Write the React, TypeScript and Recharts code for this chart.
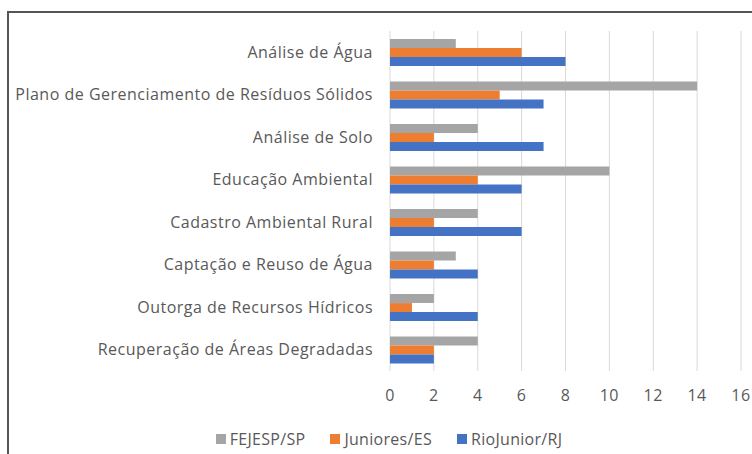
import React from "react";
import { BarChart, Bar, XAxis, YAxis, CartesianGrid, Legend } from "recharts";

const categories = [
  "Análise de Água",
  "Plano de Gerenciamento de Resíduos Sólidos",
  "Análise de Solo",
  "Educação Ambiental",
  "Cadastro Ambiental Rural",
  "Captação e Reuso de Água",
  "Outorga de Recursos Hídricos",
  "Recuperação de Áreas Degradadas",
];
const fejesp = [3, 14, 4, 10, 4, 3, 2, 4];
const juniores = [6, 5, 2, 4, 2, 2, 1, 2];
const riojunior = [8, 7, 7, 6, 6, 4, 4, 2];
const xTicks = [0, 2, 4, 6, 8, 10, 12, 14, 16];

const seriesNames = ["FEJESP/SP", "Juniores/ES", "RioJunior/RJ"];
const seriesColors = ["#A5A5A5", "#ED7D31", "#4472C4"];

const data = categories.map((c, i) => ({
  name: c,
  s0: fejesp[i],
  s1: juniores[i],
  s2: riojunior[i],
}));

const FONT = "'Open Sans', sans-serif";
const TEXT = "#595959";

const LegendContent = () => (
  <div
    style={{
      display: "flex",
      justifyContent: "center",
      alignItems: "center",
      gap: 25,
      fontFamily: FONT,
      fontSize: 16,
      letterSpacing: 0.3,
      color: TEXT,
      height: 30,
    }}
  >
    {seriesNames.map((n, i) => (
      <div key={n} style={{ display: "flex", alignItems: "center" }}>
        <span
          style={{
            display: "inline-block",
            width: 10,
            height: 10,
            background: seriesColors[i],
            marginRight: 4,
          }}
        />
        <span>{n}</span>
      </div>
    ))}
  </div>
);

export default function App() {
  return (
    <div style={{ position: "relative", width: 752, height: 454, overflow: "hidden", background: "#fff" }}>
      <style>{"body{margin:0}"}</style>
      <div
        style={{
          position: "absolute",
          left: 7,
          top: 11,
          width: 800,
          height: 500,
          border: "2px solid #555",
          boxSizing: "border-box",
        }}
      />
      <div style={{ position: "absolute", left: 0, top: 0 }}>
        <BarChart
          width={752}
          height={454}
          data={data}
          layout="vertical"
          margin={{ top: 31, right: 11, bottom: 0, left: 0 }}
          barCategoryGap="19%"
          barGap={0}
        >
          <CartesianGrid horizontal={false} stroke="#D9D9D9" strokeWidth={1} />
          <XAxis
            type="number"
            domain={[0, 16]}
            ticks={xTicks}
            axisLine={false}
            tickLine={false}
            tickSize={0}
            tickMargin={19}
            height={53}
            interval={0}
            tick={{ fill: TEXT, fontSize: 16, fontFamily: FONT, letterSpacing: 0.5 }}
          />
          <YAxis
            type="category"
            dataKey="name"
            width={390}
            axisLine={false}
            tickLine={false}
            tickSize={0}
            tickMargin={17}
            interval={0}
            tick={{ fill: TEXT, fontSize: 16, fontFamily: FONT, letterSpacing: 0.5 }}
          />
          <Legend
            verticalAlign="bottom"
            height={30}
            wrapperStyle={{ left: 26, width: 726 }}
            content={<LegendContent />}
          />
          {["s0", "s1", "s2"].map((k, i) => (
            <Bar key={k} dataKey={k} name={seriesNames[i]} fill={seriesColors[i]} isAnimationActive={false} />
          ))}
        </BarChart>
      </div>
    </div>
  );
}
